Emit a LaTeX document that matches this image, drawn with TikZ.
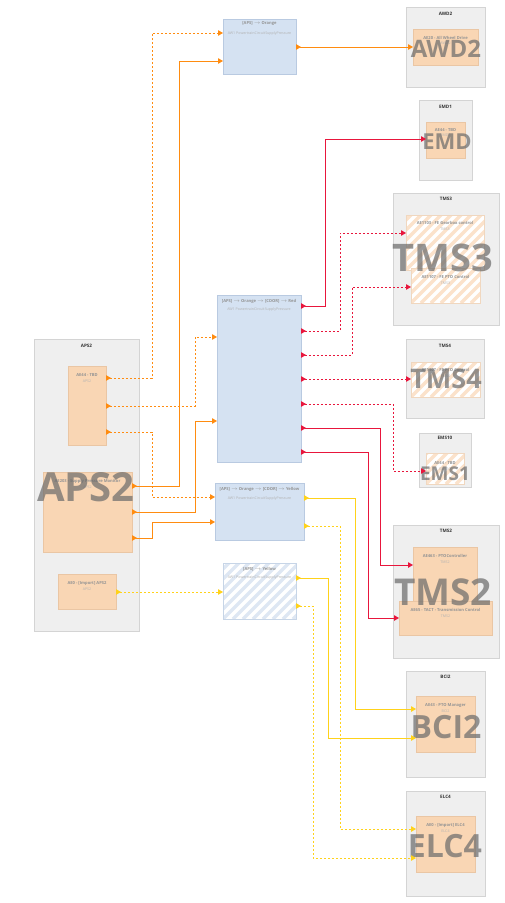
\documentclass[tikz,border=0pt]{standalone}
\usepackage{fontspec}
\setmainfont{Open Sans}
\usetikzlibrary{arrows.meta}
\definecolor{contF}{HTML}{EFEFEF}
\definecolor{contB}{HTML}{D4D4D4}
\definecolor{aeF}{HTML}{F9D6B4}
\definecolor{aeB}{HTML}{EAC6A4}
\definecolor{blF}{HTML}{D5E2F2}
\definecolor{blB}{HTML}{B9CAE1}
\definecolor{hatchOr}{HTML}{FBE2CB}
\definecolor{hatchBl}{HTML}{DEE7F3}
\definecolor{orC}{HTML}{FF8C10}
\definecolor{rdC}{HTML}{E8163C}
\definecolor{ylC}{HTML}{FFD21A}
\definecolor{bigC}{HTML}{6A6A6A}
\begin{document}
\begin{tikzpicture}[x=1pt,y=-1pt,
  boxbase/.style={anchor=north west, inner sep=0pt, outer sep=0pt},
  cont/.style={boxbase, draw=contB, fill=contF, line width=0.7pt},
  ae/.style={boxbase, draw=aeB, fill=aeF, line width=0.5pt},
  aeh/.style={boxbase, draw=aeB!70, fill=white, line width=0.5pt,
    path picture={\foreach \k in {-220,-210,...,110}{\draw[hatchOr, line width=3.5pt] ([xshift=\k pt]path picture bounding box.south west) -- ++(240,-240);}}},
  blue/.style={boxbase, draw=blB, fill=blF, line width=0.5pt},
  blueh/.style={boxbase, draw=blB!80, fill=white, line width=0.5pt,
    path picture={\foreach \k in {-220,-210,...,110}{\draw[hatchBl, line width=3.5pt] ([xshift=\k pt]path picture bounding box.south west) -- ++(240,-240);}}},
  clabel/.style={font=\bfseries\fontsize{4.6}{5}\selectfont, text=black!80, inner sep=0pt},
  ttl/.style={font=\bfseries\fontsize{4.1}{5}\selectfont, text=black!42, inner sep=0pt},
  sub/.style={font=\fontsize{3.6}{4.5}\selectfont, text=black!30, inner sep=0pt},
  big/.style={text=bigC, text opacity=0.7, inner sep=0pt},
  conn/.style={line width=0.95pt, {Triangle[reversed,length=5pt,width=5.5pt]}-{Triangle[length=5pt,width=5.5pt]}},
  dsh/.style={dash pattern=on 2.4pt off 1.6pt},
]
\useasboundingbox (0,0) rectangle (504,903);
\fill[white] (0,0) rectangle (504,903);

% containers
\node[cont, minimum width=105pt, minimum height=292pt] (aps2c) at (34,339) {};
\node[cont, minimum width=79pt, minimum height=80pt] (awd2c) at (406,7) {};
\node[cont, minimum width=53pt, minimum height=80pt] (emd1c) at (419,100) {};
\node[cont, minimum width=106pt, minimum height=132pt] (tms3c) at (393,193) {};
\node[cont, minimum width=78pt, minimum height=79pt] (tms4c) at (406,339) {};
\node[cont, minimum width=52pt, minimum height=54pt] (ems10c) at (419,433) {};
\node[cont, minimum width=106pt, minimum height=133pt] (tms2c) at (393,525) {};
\node[cont, minimum width=79pt, minimum height=106pt] (bci2c) at (406,671) {};
\node[cont, minimum width=79pt, minimum height=105pt] (elc4c) at (406,791) {};

\node[clabel] (laps2) at ([yshift=-7pt]aps2c.north) {APS2};
\node[clabel] (lawd2) at ([yshift=-7pt]awd2c.north) {AWD2};
\node[clabel] (lemd1) at ([yshift=-7pt]emd1c.north) {EMD1};
\node[clabel] (ltms3) at ([yshift=-6pt]tms3c.north) {TMS3};
\node[clabel] (ltms4) at ([yshift=-7pt]tms4c.north) {TMS4};
\node[clabel] (lems10) at ([yshift=-5pt]ems10c.north) {EMS10};
\node[clabel] (ltms2) at ([yshift=-6pt]tms2c.north) {TMS2};
\node[clabel] (lbci2) at ([yshift=-6pt]bci2c.north) {BCI2};
\node[clabel] (lelc4) at ([yshift=-6pt]elc4c.north) {ELC4};

% inner application boxes
\node[ae, minimum width=38pt, minimum height=79pt] (ae44a) at (68,366) {};
\node[ae, minimum width=89pt, minimum height=80pt] (ae203) at (43,472) {};
\node[ae, minimum width=58pt, minimum height=35pt] (ae0a) at (58,574) {};
\node[ae, minimum width=65pt, minimum height=36pt] (ae20) at (413,29) {};
\node[ae, minimum width=39pt, minimum height=36pt] (ae44e) at (426,122) {};
\node[aeh, minimum width=78pt, minimum height=55pt] (ae1103) at (406,215) {};
\node[aeh, minimum width=69pt, minimum height=35pt] (ae1107a) at (411,268) {};
\node[aeh, minimum width=69pt, minimum height=35pt] (ae1107b) at (411,362) {};
\node[aeh, minimum width=38pt, minimum height=31pt] (ae44m) at (426,453) {};
\node[ae, minimum width=64pt, minimum height=55pt] (ae463) at (413,547) {};
\node[ae, minimum width=93pt, minimum height=34pt] (ae65) at (399,601) {};
\node[ae, minimum width=59pt, minimum height=56pt] (ae43) at (416,696) {};
\node[ae, minimum width=59pt, minimum height=56pt] (ae0e) at (416,816) {};

\node[ttl] (t44a) at ([yshift=-9pt]ae44a.north) {AE44 - TBD};
\node[sub] (s44a) at ([yshift=-15pt]ae44a.north) {APS2};
\node[ttl] (t203) at ([yshift=-9pt]ae203.north) {AE203 - Supply Pressure Monitor};
\node[sub] (s203) at ([yshift=-15pt]ae203.north) {APS2};
\node[ttl] (t0a) at ([yshift=-9pt]ae0a.north) {AE0 - [Import] APS2};
\node[sub] (s0a) at ([yshift=-15pt]ae0a.north) {APS2};
\node[ttl] (t20) at ([yshift=-9pt]ae20.north) {AE20 - All Wheel Drive};
\node[sub] (s20) at ([yshift=-14pt]ae20.north) {AWD2};
\node[ttl] (t44e) at ([yshift=-8pt]ae44e.north) {AE44 - TBD};
\node[sub] (s44e) at ([yshift=-13pt]ae44e.north) {EMD1};
\node[ttl] (t1103) at ([yshift=-8pt]ae1103.north) {AE1103 - FE Gearbox control};
\node[sub] (s1103) at ([yshift=-14pt]ae1103.north) {TMS3};
\node[ttl] (t1107a) at ([yshift=-9pt]ae1107a.north) {AE1107 - FE PTO Control};
\node[sub] (s1107a) at ([yshift=-15pt]ae1107a.north) {TMS3};
\node[ttl] (t1107b) at ([yshift=-8pt]ae1107b.north) {AE1107 - FE PTO Control};
\node[sub] (s1107b) at ([yshift=-14pt]ae1107b.north) {TMS4};
\node[ttl] (t44m) at ([yshift=-10pt]ae44m.north) {AE44 - TBD};
\node[sub] (s44m) at ([yshift=-16pt]ae44m.north) {EMS10};
\node[ttl] (t463) at ([yshift=-9pt]ae463.north) {AE463 - PTOController};
\node[sub] (s463) at ([yshift=-15pt]ae463.north) {TMS2};
\node[ttl] (t65) at ([yshift=-9pt]ae65.north) {AE65 - TACT - Transmission Control};
\node[sub] (s65) at ([yshift=-15pt]ae65.north) {TMS2};
\node[ttl] (t43) at ([yshift=-9pt]ae43.north) {AE43 - PTO Manager};
\node[sub] (s43) at ([yshift=-15pt]ae43.north) {BCI2};
\node[ttl] (t0e) at ([yshift=-9pt]ae0e.north) {AE0 - [Import] ELC4};
\node[sub] (s0e) at ([yshift=-15pt]ae0e.north) {ELC4};

% big overlay texts
\node[big, font=\bfseries\fontsize{40}{40}\selectfont] (baps2) at (86,487) {APS2};
\node[big, font=\bfseries\fontsize{24}{24}\selectfont] (bawd2) at (446,49) {AWD2};
\node[big, font=\bfseries\fontsize{22}{22}\selectfont] (bemd) at (447,142) {EMD};
\node[big, font=\bfseries\fontsize{38}{38}\selectfont] (btms3) at (443,258) {TMS3};
\node[big, font=\bfseries\fontsize{27}{27}\selectfont] (btms4) at (446,379) {TMS4};
\node[big, font=\bfseries\fontsize{19}{19}\selectfont] (bems1) at (445,474) {EMS1};
\node[big, font=\bfseries\fontsize{37}{37}\selectfont] (btms2) at (443,592) {TMS2};
\node[big, font=\bfseries\fontsize{32}{32}\selectfont] (bbci2) at (446,727) {BCI2};
\node[big, font=\bfseries\fontsize{32}{32}\selectfont] (belc4) at (445,846) {ELC4};

% signal boxes
\node[blue, minimum width=73pt, minimum height=55pt] (bor) at (223,19) {};
\node[blue, minimum width=84pt, minimum height=167pt] (bred) at (217,295) {};
\node[blue, minimum width=89pt, minimum height=57pt] (byo) at (215,483) {};
\node[blueh, minimum width=73pt, minimum height=56pt] (byl) at (223,563) {};

\node[ttl] (tor) at ([yshift=-5pt]bor.north) {[APS] $\to$ Orange};
\node[sub] (sor) at ([yshift=-15pt]bor.north) {AW1 PowertrainCircuitSupplyPressure};
\node[ttl] (tred) at ([yshift=-6pt]bred.north) {[APS] $\to$ Orange $\to$ [CDOR] $\to$ Red};
\node[sub] (sred) at ([yshift=-15pt]bred.north) {AW1 PowertrainCircuitSupplyPressure};
\node[ttl] (tyo) at ([yshift=-6pt]byo.north) {[APS] $\to$ Orange $\to$ [CDOR] $\to$ Yellow};
\node[sub] (syo) at ([yshift=-16pt]byo.north) {AW1 PowertrainCircuitSupplyPressure};
\node[ttl] (tyl) at ([yshift=-6pt]byl.north) {[APS] $\to$ Yellow};
\node[sub] (syl) at ([yshift=-15pt]byl.north) {AW1 PowertrainCircuitSupplyPressure};

% ports
\coordinate (o1s) at (106,378); \coordinate (o1t) at (223,33);
\coordinate (o2s) at (106,406); \coordinate (o2t) at (217,337);
\coordinate (o3s) at (106,432); \coordinate (o3t) at (215,497);
\coordinate (o4s) at (132,486); \coordinate (o4t) at (223,61);
\coordinate (o5s) at (132,512); \coordinate (o5t) at (217,421);
\coordinate (o6s) at (132,538); \coordinate (o6t) at (215,522);
\coordinate (o7s) at (296,47);  \coordinate (o7t) at (413,47);
\coordinate (r1s) at (301,306); \coordinate (r1t) at (426,139);
\coordinate (r2s) at (301,331); \coordinate (r2t) at (406,233);
\coordinate (r3s) at (301,355); \coordinate (r3t) at (411,287);
\coordinate (r4s) at (301,379); \coordinate (r4t) at (411,379);
\coordinate (r5s) at (301,404); \coordinate (r5t) at (426,471);
\coordinate (r6s) at (301,428); \coordinate (r6t) at (413,565);
\coordinate (r7s) at (301,452); \coordinate (r7t) at (399,618);
\coordinate (y0s) at (116,592); \coordinate (y0t) at (223,592);
\coordinate (y1s) at (304,498); \coordinate (y1t) at (416,709);
\coordinate (y2s) at (304,526); \coordinate (y2t) at (416,829);
\coordinate (y3s) at (296,578); \coordinate (y3t) at (416,738);
\coordinate (y4s) at (296,606); \coordinate (y4t) at (416,858);

% orange connectors
\draw[conn, orC, dsh] (o1s) -- ++(46,0) |- (o1t);
\draw[conn, orC, dsh] (o2s) -- ++(89,0) |- (o2t);
\draw[conn, orC, dsh] (o3s) -- ++(46,0) |- (o3t);
\draw[conn, orC] (o4s) -- ++(47,0) |- (o4t);
\draw[conn, orC] (o5s) -- ++(63,0) |- (o5t);
\draw[conn, orC] (o6s) -- ++(20,0) |- (o6t);
\draw[conn, orC] (o7s) -- (o7t);

% red connectors
\draw[conn, rdC] (r1s) -- ++(24,0) |- (r1t);
\draw[conn, rdC, dsh] (r2s) -- ++(39,0) |- (r2t);
\draw[conn, rdC, dsh] (r3s) -- ++(51,0) |- (r3t);
\draw[conn, rdC, dsh] (r4s) -- (r4t);
\draw[conn, rdC, dsh] (r5s) -- ++(92,0) |- (r5t);
\draw[conn, rdC] (r6s) -- ++(79,0) |- (r6t);
\draw[conn, rdC] (r7s) -- ++(67,0) |- (r7t);

% yellow connectors
\draw[conn, ylC, dsh] (y0s) -- (y0t);
\draw[conn, ylC] (y1s) -- ++(51,0) |- (y1t);
\draw[conn, ylC, dsh] (y2s) -- ++(36,0) |- (y2t);
\draw[conn, ylC] (y3s) -- ++(32,0) |- (y3t);
\draw[conn, ylC, dsh] (y4s) -- ++(17,0) |- (y4t);
\end{tikzpicture}
\end{document}
